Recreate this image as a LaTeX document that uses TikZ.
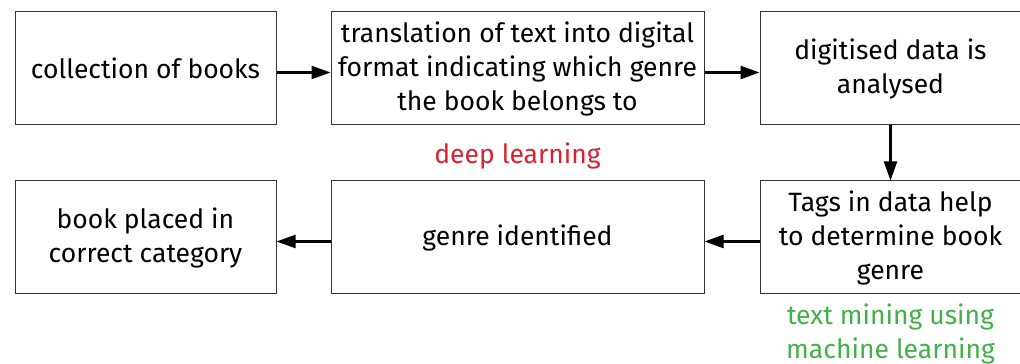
\documentclass[tikz,border=0pt]{standalone}
\usepackage{fontspec}
\setmainfont{Fira Sans}
\usetikzlibrary{arrows.meta,positioning}
\definecolor{boxline}{gray}{0.2}
\definecolor{dlred}{HTML}{D8232F}
\definecolor{tmgreen}{HTML}{44B049}
\newcommand{\flowfont}{\fontsize{26.5}{34}\selectfont}
\tikzset{
  stage/.style  = {draw=boxline, line width=1pt, minimum height=113pt,
                   align=center, inner sep=0pt, font=\flowfont},
  stagen/.style = {stage, minimum width=261pt},
  stagew/.style = {stage, minimum width=373pt},
  arr/.style    = {-{Triangle[length=19pt,width=13pt]}, line width=2.2pt},
  note/.style   = {font=\flowfont, align=center, inner sep=0pt},
}

\begin{document}
\begin{tikzpicture}[x=1pt,y=1pt]
      \useasboundingbox (0,0) rectangle (1020,364);
      % top row
      \node[stagen] (books) at (145.5,295.5) {collection of books};
      \node[stagew, right=54pt of books] (digital)
        {translation of text into digital\\format indicating which genre\\the book belongs to};
      \node[stagen, right=55pt of digital] (analyse) {digitised data is\\analysed};
      % bottom row
      \node[stagen, below=55pt of analyse] (tags)
        {Tags in data help\\to determine book\\genre};
      \node[stagew, left=55pt of tags] (genre) {genre identified};
      \node[stagen, left=54pt of genre] (placed) {book placed in\\correct category};
      % labels
      \node[note, text=dlred, below=17pt of digital] (deep) {deep learning};
      \node[note, text=tmgreen, below=9pt of tags] (mining) {text mining using\\machine learning};
      % arrows
      \draw[arr] ([yshift=-4pt]books.east) -- ([yshift=-4pt]digital.west);
      \draw[arr] ([yshift=-4pt]digital.east) -- ([yshift=-4pt]analyse.west);
      \draw[arr] (analyse.south) -- (tags.north);
      \draw[arr] ([yshift=-4pt]tags.west) -- ([yshift=-4pt]genre.east);
      \draw[arr] ([yshift=-4pt]genre.west) -- ([yshift=-4pt]placed.east);
    \end{tikzpicture}
\end{document}
